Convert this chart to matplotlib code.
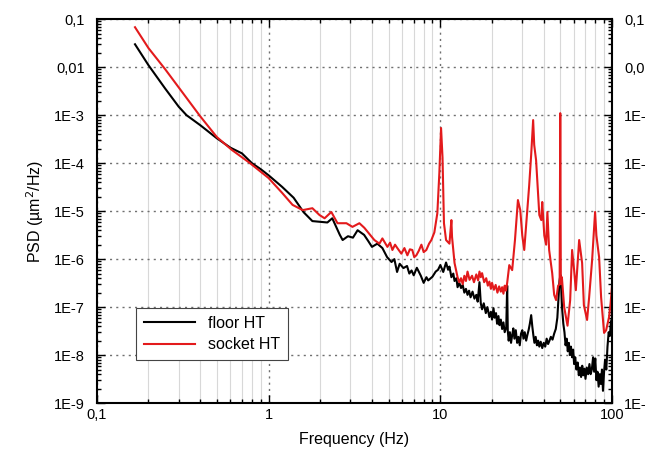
import matplotlib
matplotlib.use("Agg")
import matplotlib.pyplot as plt
from matplotlib.ticker import FixedLocator, FixedFormatter, LogLocator, NullFormatter

plt.rcParams['font.family'] = ['Liberation Sans', 'DejaVu Sans']

# floor HT (black)
floor_f = [0.167, 0.2, 0.25, 0.3, 0.333, 0.4, 0.5, 0.6, 0.7, 0.8, 0.9, 1.0, 1.2, 1.4, 1.6,
           1.8, 2.0, 2.2, 2.35, 2.6, 2.7, 2.9, 3.1, 3.3, 3.6, 3.8, 4.0, 4.3, 4.6, 4.9, 5.2,
           5.4, 5.6, 5.8, 6.1, 6.4, 6.6, 6.8, 7.0, 7.3, 7.7, 8.0, 8.3, 8.5, 9.0, 9.4, 9.7,
           10.0, 10.4, 10.8, 11.1, 11.3, 11.6, 11.9, 12.1, 12.4, 12.6, 12.9, 13.2, 13.5,
           13.8, 14.1, 14.4, 14.7, 15.0, 15.4, 15.8, 16.2, 16.5, 16.9, 17.2, 17.5, 17.9,
           18.4, 18.8, 19.3, 19.7, 20.0, 20.4, 20.7, 21.1, 21.4, 21.8, 22.1, 22.5, 22.9,
           23.3, 23.7, 24.2, 24.5, 24.7, 25.0, 25.4, 25.8, 26.2, 26.6, 27.0, 27.5, 28.0,
           28.5, 29.0, 29.5, 30.0, 30.5, 31.0, 31.6, 32.1, 32.7, 33.2, 33.8, 34.3, 34.8,
           35.3, 35.9, 36.5, 37.1, 37.7, 38.4, 39.2, 40.0, 40.8, 41.6, 42.4, 43.2, 44.0,
           45.0, 46.0, 47.0, 48.0, 48.8, 49.4, 50.0, 50.6, 51.2, 52.0, 52.8, 53.6, 54.4,
           55.2, 56.0, 56.8, 57.6, 58.5, 59.3, 60.1, 61.0, 62.0, 63.0, 64.0, 65.0, 66.0,
           67.0, 68.0, 69.0, 70.0, 71.2, 72.5, 73.8, 75.0, 76.2, 77.5, 78.6, 79.8, 81.0,
           82.2, 83.5, 84.8, 86.0, 87.3, 88.5, 89.8, 91.0, 92.5, 94.0, 95.5, 97.0, 98.5,
           100.0]
floor_psd = [3.0e-2, 1.1e-2, 3.6e-3, 1.5e-3, 1.0e-3, 6.2e-4, 3.3e-4, 2.1e-4, 1.6e-4, 1.0e-4,
             7.5e-5, 5.6e-5, 3.2e-5, 1.9e-5, 9.5e-6,
             6.2e-6, 6.0e-6, 5.8e-6, 7.1e-6, 3.2e-6, 2.5e-6, 3.0e-6, 2.8e-6, 4.0e-6, 3.2e-6,
             2.4e-6, 1.8e-6, 2.1e-6, 1.7e-6, 1.1e-6, 8.7e-7,
             1.0e-6, 5.4e-7, 8.0e-7, 6.5e-7, 7.2e-7, 5.0e-7, 5.8e-7, 4.6e-7, 6.6e-7, 4.5e-7,
             3.2e-7, 4.2e-7, 3.6e-7, 4.3e-7, 5.5e-7, 6.0e-7,
             7.5e-7, 5.4e-7, 8.5e-7, 6.0e-7, 7.0e-7, 4.2e-7, 5.0e-7, 3.5e-7, 4.0e-7, 2.6e-7,
             3.2e-7, 2.5e-7, 2.9e-7,
             2.0e-7, 2.4e-7, 1.8e-7, 2.2e-7, 1.6e-7, 2.1e-7, 1.5e-7, 1.8e-7, 1.3e-7, 3.3e-7,
             1.2e-7, 9.0e-8, 1.2e-7,
             7.5e-8, 1.0e-7, 6.2e-8, 8.0e-8, 5.5e-8, 9.5e-8, 6.0e-8, 7.5e-8, 4.5e-8, 6.5e-8,
             4.2e-8, 5.5e-8, 3.5e-8,
             4.8e-8, 3.0e-8, 3.8e-8, 2.8e-7, 3.2e-8, 2.0e-8, 3.0e-8, 1.8e-8, 2.6e-8, 3.6e-8,
             2.2e-8, 3.3e-8, 1.8e-8,
             2.4e-8, 1.6e-8, 2.8e-8, 3.3e-8, 2.2e-8, 3.0e-8, 2.0e-8, 2.6e-8, 3.4e-8, 4.5e-8,
             6.8e-8, 4.0e-8, 2.6e-8,
             1.8e-8, 2.4e-8, 1.6e-8, 2.0e-8, 1.5e-8, 1.9e-8, 1.4e-8, 1.8e-8, 1.5e-8, 2.2e-8,
             1.7e-8, 2.0e-8, 2.4e-8,
             2.1e-8, 2.8e-8, 3.5e-8, 6.0e-8, 1.6e-7, 3.5e-7, 4.7e-7, 2.4e-7, 9.0e-8, 4.5e-8,
             3.0e-8, 1.6e-8, 2.2e-8,
             1.2e-8, 1.8e-8, 1.0e-8, 1.5e-8, 9.0e-9, 1.3e-8, 6.5e-9, 9.0e-9, 5.0e-9, 7.0e-9,
             3.8e-9, 5.5e-9, 3.5e-9,
             6.0e-9, 3.8e-9, 5.2e-9, 3.2e-9, 5.5e-9, 4.0e-9, 6.5e-9, 4.0e-9, 5.0e-9, 9.0e-9,
             4.5e-9, 8.5e-9, 3.0e-9,
             4.5e-9, 2.2e-9, 4.0e-9, 2.5e-9, 5.0e-9, 1.8e-9, 4.5e-9, 8.0e-9, 5.0e-9, 1.5e-8,
             3.0e-8, 2.5e-8, 5.0e-8,
             6.0e-8]

# socket HT (red)
socket_f = [0.167, 0.2, 0.25, 0.3, 0.4, 0.5, 0.61, 0.78, 1.0, 1.2, 1.38, 1.58, 1.8, 1.98,
            2.12, 2.32, 2.52, 2.84, 3.08, 3.38, 3.61, 3.9, 4.13, 4.42, 4.6, 4.92, 5.1, 5.26,
            5.45, 5.62, 5.93, 6.18, 6.43, 6.65, 6.87, 7.05, 7.25, 7.5, 7.76, 8.0, 8.29,
            8.6, 8.87, 9.23, 9.61, 9.87, 10.1, 10.3, 10.5, 10.8, 11.3, 11.6, 11.7, 12.1,
            12.6, 12.9, 13.2, 13.5, 13.8, 14.1, 14.4, 14.8, 15.3, 15.7, 16.2, 16.6, 16.9,
            17.2, 17.5, 18.0, 18.5, 18.9, 19.3, 19.7, 20.0, 20.5, 21.0, 21.5, 22.0, 22.5,
            22.9, 23.3, 23.7, 24.1, 24.5, 25.2, 26.2, 27.2, 28.3, 29.2, 30.0, 30.8, 31.6,
            32.9, 33.8, 34.7, 35.2, 36.1, 36.6, 37.7, 38.7, 39.2, 40.3, 41.3, 42.0, 43.0,
            44.8, 46.0, 47.2, 48.5, 49.5, 49.9, 50.3, 51.0, 52.6, 55.0, 57.0, 58.5, 60.1,
            61.5, 64.3, 66.9, 68.5, 71.5, 73.5, 76.5, 79.6, 81.0, 84.0, 86.3, 89.8, 92.3,
            96.0, 98.0, 100.0]
socket_psd = [6.8e-2, 2.5e-2, 9.1e-3, 3.8e-3, 9.5e-4, 3.5e-4, 1.9e-4, 1.0e-4, 4.9e-5,
              2.4e-5, 1.35e-5, 1.05e-5, 1.15e-5, 8.3e-6,
              7.1e-6, 9.6e-6, 5.6e-6, 5.6e-6, 4.7e-6, 5.6e-6, 4.5e-6, 3.2e-6, 2.5e-6, 2.1e-6,
              2.7e-6, 1.8e-6, 2.2e-6, 1.55e-6,
              2.0e-6, 1.7e-6, 1.3e-6, 1.7e-6, 1.2e-6, 1.6e-6, 1.55e-6, 1.1e-6, 1.2e-6, 1.5e-6,
              2.0e-6, 1.4e-6, 1.55e-6,
              2.1e-6, 2.5e-6, 3.6e-6, 9.1e-6, 6.2e-5, 5.4e-4, 1.3e-4, 5.6e-6, 2.5e-6, 2.1e-6,
              6.5e-6, 2.9e-6, 8.3e-7,
              4.2e-7, 3.3e-7, 4.0e-7, 3.0e-7, 4.5e-7, 3.5e-7, 5.5e-7, 3.7e-7, 4.5e-7, 3.3e-7,
              4.8e-7, 3.6e-7, 5.5e-7,
              4.2e-7, 5.1e-7, 3.3e-7, 4.0e-7, 2.8e-7, 3.4e-7, 2.4e-7, 3.2e-7, 2.3e-7, 2.9e-7,
              2.0e-7, 2.7e-7, 2.1e-7,
              2.6e-7, 1.9e-7, 2.8e-7, 2.2e-7, 3.2e-7, 7.5e-7, 5.9e-7, 2.5e-6, 1.7e-5, 1.05e-5,
              3.1e-6, 1.55e-6, 5.1e-6,
              3.4e-5, 1.5e-4, 7.9e-4, 2.4e-4, 1.15e-4, 4.9e-5, 8.3e-6, 6.5e-6, 1.55e-5, 3.1e-6,
              2.0e-6, 9.6e-6, 1.55e-6,
              5.1e-7, 1.8e-7, 1.4e-7, 2.8e-7, 3.0e-7, 1.1e-3, 3.0e-7, 4.2e-7, 1.0e-7, 4.1e-8,
              1.4e-7, 1.55e-6, 5.9e-7,
              2.25e-7, 2.5e-6, 8.3e-7, 1.1e-7, 5.4e-8, 1.6e-7, 9.6e-7, 9.6e-6, 3.1e-6, 1.1e-6,
              1.6e-7, 2.9e-8, 3.3e-8,
              6.2e-8, 1.2e-7, 3.0e-7]

x_ticks = [0.1, 1, 10, 100]
x_labels = ['0,1', '1', '10', '100']
y_ticks = [1e-9, 1e-8, 1e-7, 1e-6, 1e-5, 1e-4, 1e-3, 1e-2, 1e-1]
y_labels = ['1E-9', '1E-8', '1E-7', '1E-6', '1E-5', '1E-4', '1E-3', '0,01', '0,1']

fig = plt.figure(figsize=(6.45, 4.57), dpi=100)
ax = fig.add_axes([0.150, 0.118, 0.799, 0.840])

ax.plot(floor_f, floor_psd, color='black', lw=1.5, label='floor HT')
ax.plot(socket_f, socket_psd, color='#e31a1c', lw=1.5, label='socket HT')

ax.set_xscale('log')
ax.set_yscale('log')
ax.set_xlim(0.1, 100)
ax.set_ylim(1e-9, 0.1)

ax.xaxis.set_major_locator(FixedLocator(x_ticks))
ax.xaxis.set_major_formatter(FixedFormatter(x_labels))
ax.yaxis.set_major_locator(FixedLocator(y_ticks))
ax.yaxis.set_major_formatter(FixedFormatter(y_labels))
ax.xaxis.set_minor_locator(LogLocator(base=10, subs=range(2, 10), numticks=20))
ax.yaxis.set_minor_locator(LogLocator(base=10, subs=range(2, 10), numticks=20))
ax.xaxis.set_minor_formatter(NullFormatter())
ax.yaxis.set_minor_formatter(NullFormatter())

ax.tick_params(which='both', direction='in', top=True, right=True,
               labelright=True, labelsize=10.5, width=1.0)
ax.tick_params(which='major', length=6)
ax.tick_params(which='minor', length=3)
ax.tick_params(axis='y', which='major', pad=8.5)

ax.grid(True, which='major', axis='both', linestyle=(0, (1.5, 3)), color='#707070', lw=1.0)
ax.grid(True, which='minor', axis='x', linestyle='-', color='#d8d8d8', lw=0.8)
ax.set_axisbelow(True)

for s in ax.spines.values():
    s.set_linewidth(1.5)

ax.set_xlabel('Frequency (Hz)', fontsize=11.5, labelpad=7)
ax.set_ylabel('PSD (µm$^2$/Hz)', fontsize=11.5, labelpad=6)

leg = ax.legend(loc='lower left', bbox_to_anchor=(0.076, 0.112), borderaxespad=0,
                fancybox=False, framealpha=1, edgecolor='#444444', fontsize=11.5,
                handlelength=3.2, borderpad=0.5, labelspacing=0.4)
leg.get_frame().set_linewidth(0.8)

fig.savefig('out.png', dpi=100)
